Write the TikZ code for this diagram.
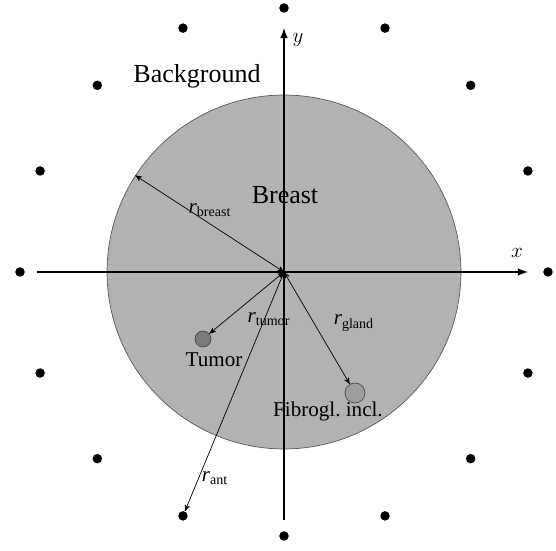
\documentclass[tikz,border=0pt]{standalone}
\usepackage{amsmath}
\usepackage{fontspec}
\setmainfont{Liberation Serif}
\usetikzlibrary{arrows}
\tikzstyle{Breast}=[shape=circle, minimum size=7.08cm, inner sep=0pt, fill=black!30, draw=black!65, line width=0.4pt]
\tikzstyle{Tumor}=[shape=circle, minimum size=0.32cm, inner sep=0pt, fill=black!52, draw=black!70, line width=0.4pt]
\tikzstyle{Gland}=[shape=circle, minimum size=0.4cm, inner sep=0pt, fill=black!38, draw=black!70, line width=0.4pt]
\tikzstyle{Antenna}=[shape=circle, minimum size=0.19cm, inner sep=0pt, fill=black]
\tikzstyle{axis}=[-latex, line width=1pt]
\tikzstyle{radius}=[<->, >=stealth', line width=0.4pt]
\tikzstyle{biglabel}=[font=\fontsize{14.8}{17}\selectfont, inner sep=0pt]
\tikzstyle{label}=[font=\fontsize{12}{14}\selectfont, inner sep=0pt]
\pgfdeclarelayer{nodelayer}
\pgfdeclarelayer{edgelayer}
\pgfsetlayers{nodelayer, edgelayer}

\begin{document}
\begin{tikzpicture}[x=0.02cm, y=0.02cm]
	\useasboundingbox (-284, -279) rectangle (272, 272);
	\begin{pgfonlayer}{nodelayer}
		% breast and inclusions
		\node [style=Breast] (breast) at (0, 0) {};
		\node [style=Tumor] (tumor) at (-81, -67) {};
		\node [style=Gland] (gland) at (71, -121) {};
		\coordinate (origin) at (0, 0);
		% antennas
		\foreach \k in {1,...,16}
			\node [style=Antenna] (ant\k) at ({90 - (\k - 1) * 22.5}:264) {};
		% axes ends
		\coordinate (xstart) at (-247, 0);
		\coordinate (xend) at (244, 0);
		\coordinate (ystart) at (0, -248);
		\coordinate (yend) at (0, 244);
		% labels
		\node [style=biglabel] (background) at (-87, 196) {Background};
		\node [style=biglabel] (breastlabel) at (1, 77) {Breast};
		\node [style=label] (tumorlabel) at (-70, -88) {Tumor};
		\node [style=label] (glandlabel) at (44, -139) {Fibrogl.\ incl.};
		\node [style=label] (xlabel) at (233, 19) {$x$};
		\node [style=label] (ylabel) at (14, 232) {$y$};
	\end{pgfonlayer}
	\begin{pgfonlayer}{edgelayer}
		% axes
		\draw [style=axis] (xstart) to (xend);
		\draw [style=axis] (ystart) to (yend);
		% radii
		\draw [style=radius] (origin) to (breast.147.4);
		\draw [style=radius] (origin) to (tumor);
		\draw [style=radius] (origin) to (gland);
		\draw [style=radius] (origin) to (ant10);
		% radius labels
		\node [style=label] (rbreast) at (-74, 62) {$\textit{r}_{\text{breast}}$};
		\node [style=label] (rtumor) at (-15, -47) {$\textit{r}_{\text{tumor}}$};
		\node [style=label] (rgland) at (70, -51) {$\textit{r}_{\text{gland}}$};
		\node [style=label] (rant) at (-69, -206) {$\textit{r}_{\text{ant}}$};
	\end{pgfonlayer}
\end{tikzpicture}
\end{document}
